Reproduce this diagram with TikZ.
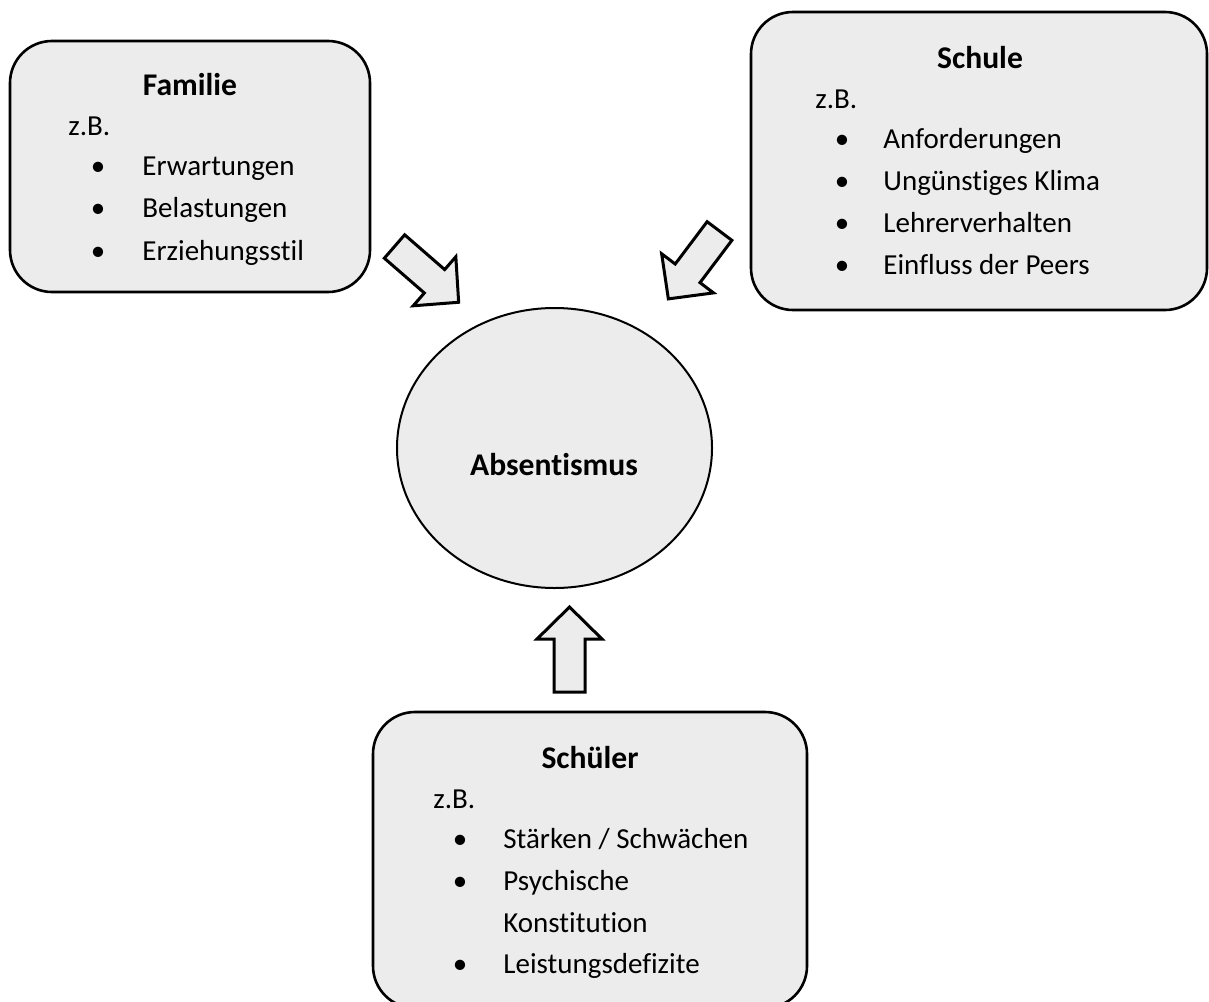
\documentclass[tikz,border=0pt]{standalone}
\usepackage{fontspec}
\setmainfont{Carlito}[Ligatures=NoCommon]
\usetikzlibrary{shapes.geometric, positioning}

\tikzset{
  feld/.style={draw, line width=1.3pt, fill=gray!15, rounded corners=21pt, inner sep=0pt},
  pfeil/.style={draw, line width=1.5pt, fill=gray!15, line join=miter},
  zeile/.style={anchor=base west, inner sep=0pt, font=\fontsize{14.5}{17}\selectfont},
  punkt/.style={anchor=base, inner sep=0pt, font=\fontsize{14.5}{17}\selectfont},
  kopf/.style={anchor=base, inner sep=0pt, font=\fontsize{15.8}{19}\selectfont\bfseries},
  pics/blockpfeil/.style={code={
    \draw[pfeil] (0,-15.5) -- (53,-15.5) -- (53,-32.5) -- (85,0) -- (53,32.5) -- (53,15.5) -- (0,15.5) -- cycle;
  }},
}

\begin{document}
\begin{tikzpicture}[x=0.5pt, y=-0.5pt]
\useasboundingbox (0,0) rectangle (1209,1001);

% Familie
\node[feld, minimum width=180pt, minimum height=125.5pt] (familie) at (190,166.5) {};
\node[kopf] (familiekopf) at (190,95) {Familie};
\node[zeile] (familiezb) at (68,135) {z.B.};
\foreach \t [count=\i] in {Erwartungen, Belastungen, Erziehungsstil}{
    \node[punkt] (familiep\i) at (98, 175+42.5*\i-42.5) {•};
    \node[zeile] (familie\i) at (142, 175+42.5*\i-42.5) {\t};
}

% Schule
\node[feld, minimum width=228pt, minimum height=149pt] (schule) at (979,161) {};
\node[kopf] (schulekopf) at (980,68) {Schule};
\node[zeile] (schulezb) at (815,108) {z.B.};
\foreach \t [count=\i] in {Anforderungen, Ungünstiges Klima, Lehrerverhalten, Einfluss der Peers}{
    \node[punkt] (schulep\i) at (842, 148+42.3*\i-42.3) {•};
    \node[zeile] (schule\i) at (883, 148+42.3*\i-42.3) {\t};
}

% Schueler
\node[feld, minimum width=217pt, minimum height=148pt] (schueler) at (590,860) {};
\node[kopf] (schuelerkopf) at (590,768) {Schüler};
\node[zeile] (schuelerzb) at (433,808) {z.B.};
\node[punkt] (schuelerp1) at (460,848) {•};
\node[zeile] (schueler1) at (503,848) {Stärken / Schwächen};
\node[punkt] (schuelerp2) at (460,890) {•};
\node[zeile] (schueler2) at (503,890) {Psychische};
\node[zeile] (schueler3) at (503,932) {Konstitution};
\node[punkt] (schuelerp4) at (460,973) {•};
\node[zeile] (schueler4) at (503,973) {Leistungsdefizite};

% Absentismus
\node[ellipse, draw, line width=1pt, fill=gray!15, minimum width=157.5pt, minimum height=140pt, inner sep=0pt] (absentismus) at (554.5,448) {};
\node[kopf] (absentismustext) at (554,475) {Absentismus};

% Pfeile
\pic[rotate=-41] at (394.5,246.5) {blockpfeil};
\pic[rotate=-127] at (719.5,231) {blockpfeil};
\pic[rotate=90] at (569.5,692) {blockpfeil};
\end{tikzpicture}
\end{document}
